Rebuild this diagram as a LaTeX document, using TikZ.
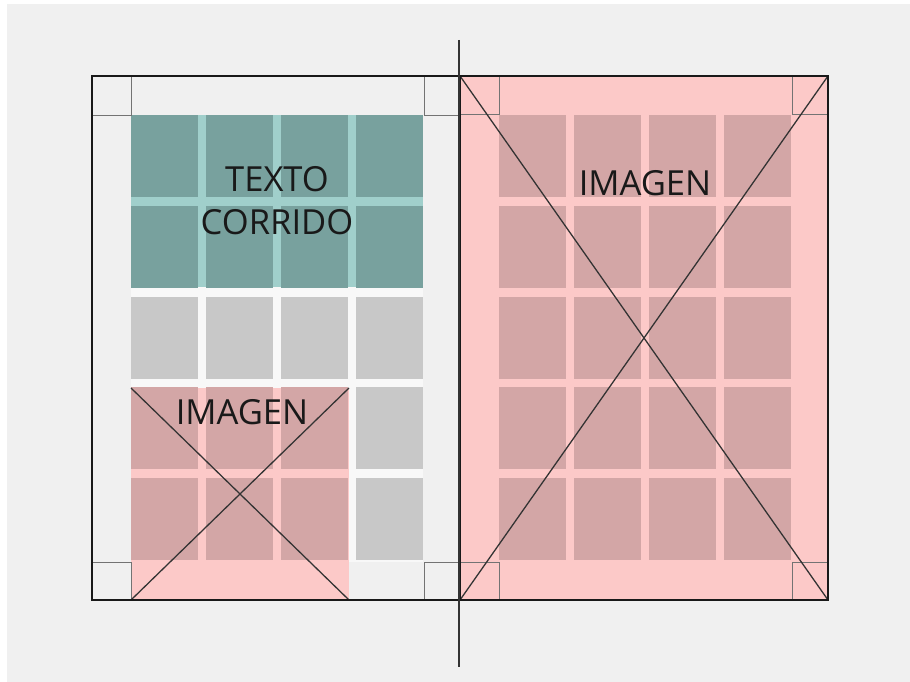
\documentclass[tikz,border=0pt]{standalone}
\usepackage{fontspec}
\setmainfont{Open Sans}
\definecolor{sheetgray}{RGB}{240,240,240}
\definecolor{areawhite}{RGB}{248,248,248}
\definecolor{tealcellc}{RGB}{120,161,158}
\definecolor{tealgutter}{RGB}{160,207,203}
\definecolor{graycellc}{RGB}{200,200,200}
\definecolor{imgpink}{RGB}{252,201,200}
\definecolor{pinkcellc}{RGB}{211,166,166}
\usetikzlibrary{positioning}

\begin{document}
\begin{tikzpicture}[x=0.03cm,y=-0.03cm,
          tealcell/.style={fill=tealcellc},
          graycell/.style={fill=graycellc},
          pinkcell/.style={fill=pinkcellc},
          pageline/.style={draw=black!90,line width=1.8pt},
          marginline/.style={draw=black!55,line width=0.7pt},
          crossline/.style={draw=black!80,line width=1.1pt},
          gridlabel/.style={font=\fontsize{29.5}{36.5}\selectfont,text=black!90,
                            align=center,inner sep=0pt}]
        % background
        \fill[white] (0,0) rectangle (910,682);
        \fill[sheetgray] (7,4) rectangle (910,682);
        \useasboundingbox (0,0) rectangle (910,682);
        % page corners
        \coordinate (lp-nw) at (92,76);
        \coordinate (lp-se) at (460,600);
        \coordinate (rp-nw) at (460,76);
        \coordinate (rp-ne) at (828,76);
        \coordinate (rp-sw) at (460,600);
        \coordinate (rp-se) at (828,600);
        \coordinate (spine-top) at (459,40);
        \coordinate (spine-bot) at (459,667);
        % left page: text area
        \fill[areawhite] (131,115) rectangle (423,562);
        \fill[tealgutter] (131,115) rectangle (423,287);
        \foreach \c in {0,...,3}
          \foreach \r in {0,1}
            \fill[tealcell] ({131+75*\c},{115+90.8*\r}) rectangle ++(67,82);
        \foreach \c in {0,...,3}
          \fill[graycell] ({131+75*\c},{115+90.8*2}) rectangle ++(67,82);
        \foreach \r in {3,4}
          \fill[graycell] ({131+75*3},{115+90.8*\r}) rectangle ++(67,82);
        % left page: small image
        \coordinate (li-nw) at (131,388);
        \coordinate (li-ne) at (349,388);
        \coordinate (li-sw) at (131,600);
        \coordinate (li-se) at (349,600);
        \fill[imgpink] (li-nw) rectangle (li-se);
        \foreach \c in {0,...,2}
          \foreach \r in {3,4}
            \fill[pinkcell] ({131+75*\c},{115+90.8*\r}) rectangle ++(67,82);
        % right page: full image
        \fill[imgpink] (rp-nw) rectangle (rp-se);
        \foreach \c in {0,...,3}
          \foreach \r in {0,...,4}
            \fill[pinkcell] ({499+75*\c},{115+90.8*\r}) rectangle ++(67,82);
        % margin corners
        \draw[marginline] (131,76) -- (131,115) -- (92,115);
        \draw[marginline] (424,76) -- (424,115) -- (460,115);
        \draw[marginline] (92,562) -- (131,562) -- (131,600);
        \draw[marginline] (460,562) -- (424,562) -- (424,600);
        \draw[marginline] (499,76) -- (499,114) -- (460,114);
        \draw[marginline] (792,76) -- (792,114) -- (828,114);
        \draw[marginline] (460,562) -- (499,562) -- (499,600);
        \draw[marginline] (828,562) -- (792,562) -- (792,600);
        % crosses
        \draw[crossline] (li-nw) -- (li-se);
        \draw[crossline] (li-ne) -- (li-sw);
        \draw[crossline] (rp-nw) -- (rp-se);
        \draw[crossline] (rp-ne) -- (rp-sw);
        % pages and spine
        \draw[pageline] (lp-nw) rectangle (lp-se);
        \draw[pageline] (rp-nw) rectangle (rp-se);
        \draw[line width=1.2pt,black!80] (spine-top) -- (spine-bot);
        % labels
        \node[gridlabel] (texto) at (277,201) {TEXTO\\CORRIDO};
        \node[gridlabel] (img-left) at (242,412) {IMAGEN};
        \node[gridlabel] (img-right) at (645,183) {IMAGEN};
        \end{tikzpicture}
\end{document}
